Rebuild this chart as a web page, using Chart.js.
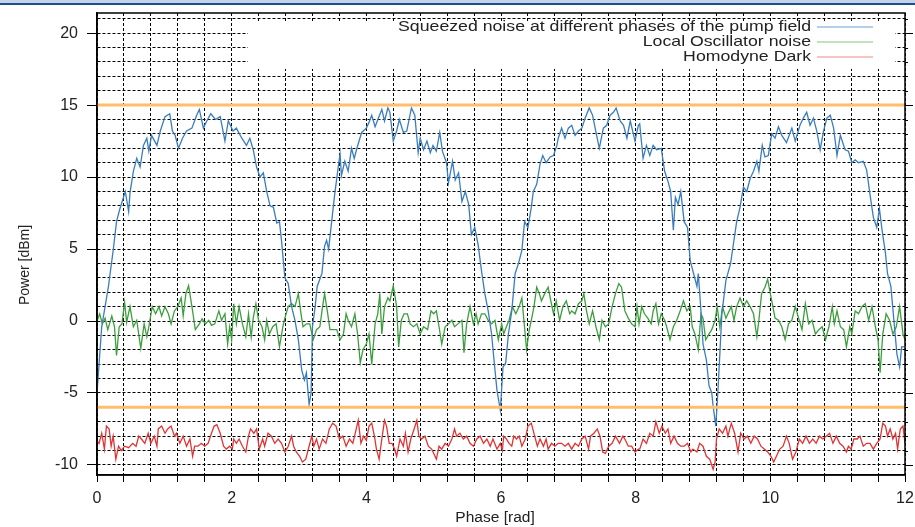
<!DOCTYPE html>
<html>
<head>
<meta charset="utf-8">
<script src="https://cdn.jsdelivr.net/npm/chart.js@4.4.1/dist/chart.umd.min.js"></script>
<style>
    body { margin: 0; background: #fff; }
    #wrap { position: relative; width: 915px; height: 527px; }
    #bar { position: absolute; left: 0; top: 0; width: 915px; height: 3px; background: #c3d4ea; border-bottom: 2px solid #1f4e8c; }
</style>
</head>
<body>
<div id="wrap">
    <canvas id="chart"></canvas>
    <div id="bar"></div>
</div>
<script>
// Series names (legend)
const seriesNames = [
    "Squeezed noise at different phases of the pump field",
    "Local Oscillator noise",
    "Homodyne Dark",
];

// Squeezed noise (blue)
const sqzPhase = [0.00,0.07,0.17,0.24,0.29,0.34,0.42,0.47,0.49,0.54,0.59,0.64,0.69,0.74,0.77,0.81,0.89,0.94,1.01,1.08,1.12,1.16,1.21,1.27,1.33,1.41,1.48,1.52,1.58,1.63,1.69,1.76,1.83,1.90,1.95,2.02,2.07,2.15,2.22,2.27,2.32,2.37,2.42,2.47,2.52,2.57,2.62,2.67,2.71,2.74,2.79,2.84,2.89,2.94,2.99,3.04,3.08,3.11,3.15,3.18,3.20,3.24,3.27,3.34,3.38,3.41,3.44,3.48,3.53,3.58,3.61,3.63,3.68,3.73,3.78,3.82,3.86,3.93,4.00,4.04,4.08,4.13,4.18,4.23,4.27,4.32,4.35,4.40,4.45,4.49,4.55,4.60,4.67,4.72,4.77,4.80,4.85,4.90,4.95,4.99,5.04,5.09,5.13,5.19,5.22,5.28,5.32,5.37,5.42,5.47,5.52,5.56,5.61,5.66,5.71,5.76,5.81,5.86,5.90,5.94,5.99,6.03,6.07,6.11,6.16,6.21,6.26,6.31,6.35,6.40,6.45,6.48,6.53,6.58,6.62,6.67,6.73,6.78,6.83,6.85,6.90,6.95,7.00,7.05,7.10,7.15,7.20,7.25,7.31,7.36,7.42,7.46,7.52,7.57,7.62,7.67,7.71,7.77,7.82,7.87,7.92,7.99,8.04,8.06,8.11,8.16,8.21,8.26,8.31,8.38,8.43,8.48,8.52,8.56,8.59,8.63,8.67,8.72,8.77,8.81,8.86,8.91,8.93,8.97,9.00,9.05,9.09,9.13,9.15,9.19,9.22,9.25,9.28,9.34,9.41,9.45,9.50,9.55,9.60,9.65,9.70,9.75,9.80,9.83,9.88,9.92,9.97,10.02,10.07,10.12,10.17,10.24,10.32,10.37,10.44,10.49,10.54,10.59,10.64,10.69,10.74,10.79,10.84,10.89,10.94,10.99,11.04,11.11,11.16,11.21,11.26,11.31,11.38,11.43,11.48,11.53,11.58,11.62,11.66,11.71,11.74,11.79,11.84,11.88,11.92,11.95,11.99];
const sqzPower = [-5.0,-0.4,2.4,4.9,6.9,7.8,9.0,7.6,8.9,10.4,11.3,10.7,12.2,12.7,11.8,12.9,12.2,13.2,14.2,14.4,13.2,12.9,12.0,12.7,13.2,13.4,14.3,14.7,13.4,13.9,14.4,14.0,14.2,12.5,13.9,13.2,13.4,12.7,12.2,12.7,11.9,10.7,10.0,10.3,9.0,8.0,7.9,6.8,6.9,5.6,3.0,2.6,1.0,0.05,-1.3,-3.4,-4.1,-3.6,-5.8,-5.0,-0.4,1.0,2.4,3.3,5.2,5.6,5.0,6.7,8.8,10.6,11.6,10.1,11.1,10.4,12.0,11.3,12.0,13.1,13.4,13.8,14.3,13.5,14.1,14.7,13.9,14.8,14.5,12.5,13.2,14.0,13.1,13.2,14.8,14.3,11.7,12.7,11.9,12.5,11.7,12.2,11.8,13.1,11.8,11.0,9.6,11.1,9.8,10.3,8.3,9.0,8.1,6.0,6.5,5.3,3.5,1.9,0.7,-0.9,-2.9,-4.8,-6.2,-3.2,-2.9,-0.9,0.7,3.3,4.0,4.9,6.9,6.5,7.9,9.0,9.5,10.9,11.5,11.0,11.4,11.5,12.2,12.7,13.4,12.7,13.4,13.6,12.9,13.2,13.4,14.1,14.8,14.3,12.9,12.0,13.4,13.6,14.3,14.5,14.8,13.9,13.6,12.7,13.9,12.5,13.6,13.7,11.3,12.2,11.5,12.2,11.9,12.0,10.4,9.7,9.0,6.3,8.6,8.1,9.0,6.9,6.5,4.2,3.3,2.4,3.3,0.7,-1.6,-2.7,-4.5,-5.0,-5.9,-7.3,-5.0,-2.3,0.5,2.8,4.0,5.3,6.9,7.9,9.3,9.0,9.9,10.4,11.1,10.4,12.2,11.4,11.5,13.0,12.7,13.5,12.9,12.4,13.4,12.5,13.6,14.1,14.5,13.6,14.1,13.2,11.9,13.2,14.1,14.3,13.4,11.5,12.9,11.9,11.8,11.0,11.2,11.0,11.1,10.5,8.8,7.2,6.5,7.8,6.3,4.7,3.3,2.4,-0.2,-2.3,-3.2,-1.8,-1.8];

// Local oscillator noise (green)
const loPhase = [0.00,0.04,0.08,0.12,0.16,0.22,0.26,0.29,0.33,0.37,0.41,0.44,0.49,0.54,0.59,0.65,0.70,0.74,0.77,0.82,0.87,0.92,0.96,1.01,1.06,1.10,1.15,1.20,1.25,1.28,1.32,1.36,1.41,1.46,1.52,1.56,1.61,1.66,1.70,1.75,1.81,1.85,1.90,1.94,1.97,2.00,2.03,2.07,2.11,2.16,2.21,2.25,2.29,2.32,2.36,2.40,2.45,2.49,2.52,2.56,2.61,2.66,2.71,2.76,2.79,2.84,2.89,2.94,2.99,3.03,3.06,3.11,3.16,3.21,3.26,3.31,3.35,3.38,3.42,3.46,3.51,3.56,3.61,3.66,3.70,3.73,3.78,3.83,3.87,3.91,3.95,4.00,4.04,4.08,4.13,4.17,4.20,4.23,4.27,4.32,4.35,4.40,4.45,4.48,4.52,4.56,4.61,4.65,4.70,4.75,4.80,4.85,4.91,4.96,5.00,5.04,5.08,5.12,5.17,5.22,5.27,5.31,5.36,5.42,5.45,5.49,5.54,5.59,5.63,5.66,5.71,5.76,5.81,5.86,5.91,5.96,6.01,6.04,6.08,6.12,6.17,6.22,6.27,6.31,6.34,6.38,6.42,6.45,6.49,6.53,6.57,6.60,6.65,6.70,6.74,6.78,6.82,6.87,6.92,6.97,7.02,7.05,7.10,7.15,7.20,7.23,7.27,7.31,7.36,7.41,7.46,7.50,7.55,7.60,7.65,7.70,7.75,7.79,7.84,7.89,7.94,7.99,8.02,8.05,8.09,8.13,8.18,8.23,8.26,8.30,8.34,8.38,8.43,8.46,8.51,8.56,8.61,8.66,8.71,8.76,8.81,8.84,8.88,8.93,8.97,9.00,9.04,9.09,9.13,9.18,9.21,9.25,9.29,9.34,9.37,9.42,9.46,9.50,9.55,9.60,9.65,9.70,9.75,9.80,9.83,9.87,9.92,9.96,10.00,10.05,10.07,10.12,10.17,10.22,10.27,10.32,10.37,10.42,10.47,10.52,10.57,10.62,10.67,10.72,10.77,10.82,10.87,10.92,10.95,10.99,11.04,11.09,11.13,11.18,11.21,11.26,11.31,11.36,11.41,11.46,11.51,11.56,11.60,11.63,11.67,11.72,11.77,11.82,11.87,11.92,11.97,12.00];
const loPower = [0.0,0.5,-0.2,0.2,-0.6,0.35,-0.4,-2.4,-0.4,-0.2,1.3,-0.1,1.0,-0.4,0.05,-1.9,-0.2,-1.1,-0.4,1.0,0.5,1.0,0.35,1.0,0.5,-0.2,0.7,1.0,1.6,0.35,1.9,2.45,1.0,-0.6,-0.2,0.15,-0.2,0.05,-0.3,-0.2,0.7,0.05,0.5,-1.6,-0.4,-1.3,1.2,-0.2,1.0,-0.2,-1.1,0.5,-1.1,0.2,1.2,0.05,-0.4,-1.3,0.05,-0.9,-0.4,-0.2,-1.8,-0.4,0.2,1.0,1.2,1.0,1.9,0.5,-0.4,-0.2,-0.2,-1.3,-0.6,-0.4,1.0,1.9,0.7,-0.6,-0.6,-0.6,-1.3,-0.9,0.5,0.05,-0.4,0.5,-0.9,-2.9,-2.0,-1.6,-0.9,-3.0,-0.2,0.5,1.9,-0.9,1.0,1.6,1.4,2.45,1.0,-1.8,0.05,0.5,0.5,-0.2,-0.4,-0.2,-0.9,-0.4,-0.6,0.7,0.5,0.7,-0.4,-1.6,-0.4,-0.2,0.05,-0.4,-0.2,0.05,-2.2,-0.2,1.0,-0.2,0.5,-0.2,0.5,0.5,0.05,-0.2,0.05,-1.3,-0.2,-0.9,-0.4,0.05,1.0,0.5,1.0,1.6,0.05,-2.0,-0.6,0.05,1.0,2.35,1.9,1.4,1.9,2.35,1.4,0.5,1.4,0.05,1.0,1.4,0.5,0.7,0.5,1.2,1.4,1.9,0.7,-0.2,0.7,-0.4,-1.3,0.05,-0.4,-0.2,1.0,1.9,2.6,2.35,0.7,0.2,-0.2,-0.4,1.0,-0.2,1.0,0.5,0.2,-0.2,0.7,1.2,-0.2,0.5,0.05,-0.4,-1.3,-0.4,0.05,0.7,1.4,0.7,1.0,-0.4,-0.9,-2.0,0.5,0.2,-1.3,-0.9,-0.6,0.05,1.0,-0.4,1.0,0.2,0.5,1.0,0.05,1.0,1.6,1.0,1.4,1.0,0.5,-1.1,0.05,1.9,2.35,2.9,1.9,0.7,0.2,0.05,-0.4,-1.3,-0.2,0.05,1.0,0.2,-0.6,1.2,-0.2,0.05,-0.9,-0.6,-0.4,-1.3,-0.4,1.0,-0.2,0.7,-0.4,-0.6,-1.8,-0.4,-0.9,0.7,0.5,1.0,1.2,0.05,1.0,-0.4,-1.3,-3.6,-0.9,0.5,0.05,-0.9,-0.4,1.0,-0.9,-1.3];

// Homodyne dark noise (red)
const darkPhase = [0.00,0.03,0.07,0.11,0.14,0.18,0.21,0.24,0.28,0.32,0.36,0.41,0.47,0.53,0.58,0.62,0.66,0.71,0.76,0.80,0.85,0.89,0.91,0.96,1.01,1.05,1.10,1.15,1.18,1.23,1.28,1.33,1.38,1.42,1.45,1.50,1.55,1.60,1.65,1.70,1.74,1.78,1.83,1.88,1.92,1.97,2.01,2.03,2.07,2.11,2.16,2.21,2.25,2.28,2.33,2.37,2.41,2.46,2.49,2.54,2.59,2.64,2.69,2.74,2.79,2.84,2.89,2.92,2.96,3.01,3.05,3.10,3.15,3.19,3.22,3.26,3.30,3.35,3.40,3.45,3.50,3.55,3.60,3.65,3.70,3.75,3.80,3.85,3.88,3.92,3.96,4.00,4.04,4.08,4.12,4.15,4.19,4.23,4.27,4.30,4.34,4.38,4.42,4.45,4.50,4.55,4.58,4.62,4.66,4.71,4.75,4.78,4.82,4.87,4.92,4.97,5.02,5.04,5.08,5.12,5.17,5.22,5.27,5.31,5.34,5.39,5.44,5.49,5.54,5.59,5.64,5.69,5.74,5.79,5.84,5.88,5.94,5.99,6.02,6.04,6.08,6.12,6.16,6.19,6.23,6.27,6.31,6.36,6.40,6.45,6.50,6.54,6.58,6.63,6.67,6.70,6.75,6.80,6.85,6.90,6.95,7.00,7.05,7.10,7.15,7.20,7.25,7.30,7.33,7.38,7.43,7.47,7.51,7.55,7.60,7.65,7.70,7.76,7.81,7.84,7.89,7.94,7.99,8.04,8.06,8.11,8.16,8.21,8.26,8.30,8.35,8.39,8.44,8.48,8.52,8.57,8.62,8.67,8.72,8.77,8.82,8.85,8.91,8.95,9.00,9.05,9.10,9.15,9.18,9.20,9.24,9.29,9.34,9.37,9.42,9.47,9.52,9.56,9.61,9.66,9.71,9.76,9.81,9.86,9.91,9.96,10.01,10.05,10.09,10.14,10.19,10.24,10.28,10.33,10.38,10.43,10.48,10.53,10.58,10.63,10.68,10.73,10.78,10.83,10.88,10.93,10.98,11.03,11.08,11.13,11.16,11.20,11.24,11.29,11.33,11.38,11.43,11.48,11.53,11.58,11.63,11.67,11.71,11.74,11.78,11.82,11.86,11.89,11.93,11.97,12.00];
const darkPower = [-8.35,-8.5,-7.8,-8.9,-7.3,-7.5,-8.7,-8.0,-9.6,-8.7,-9.0,-8.7,-8.8,-8.5,-8.7,-8.0,-8.2,-8.5,-7.8,-8.5,-8.0,-8.7,-7.5,-7.3,-7.8,-7.5,-7.3,-8.0,-7.8,-8.5,-8.0,-8.7,-8.2,-9.4,-8.7,-8.7,-8.5,-8.7,-8.5,-7.8,-7.3,-7.2,-7.8,-8.7,-8.9,-8.7,-8.9,-8.2,-8.5,-8.2,-8.7,-9.1,-8.0,-7.5,-7.8,-7.5,-8.9,-8.2,-8.7,-7.8,-8.0,-8.5,-8.2,-8.5,-9.1,-8.7,-8.0,-8.7,-9.1,-9.4,-9.8,-9.6,-8.7,-8.0,-8.7,-8.2,-8.9,-8.2,-8.5,-7.5,-7.1,-7.3,-8.2,-8.0,-8.7,-8.2,-8.5,-7.5,-6.9,-8.5,-8.0,-8.3,-7.3,-7.1,-8.0,-8.9,-9.6,-8.2,-6.9,-7.3,-8.5,-8.5,-8.9,-9.4,-8.2,-8.7,-7.8,-9.1,-8.2,-7.5,-6.9,-8.0,-8.2,-8.0,-8.7,-8.9,-9.4,-9.6,-8.7,-8.9,-8.5,-8.7,-8.2,-7.5,-8.0,-7.8,-8.2,-8.0,-8.5,-8.7,-8.2,-8.0,-8.5,-8.2,-8.7,-8.2,-8.9,-8.5,-9.0,-8.0,-8.2,-8.5,-8.7,-8.0,-8.2,-8.0,-8.7,-8.2,-7.3,-7.1,-8.0,-8.7,-8.2,-8.7,-8.2,-8.9,-8.5,-8.7,-8.5,-8.5,-8.7,-8.5,-8.9,-8.5,-8.7,-8.2,-8.0,-8.9,-8.0,-7.8,-7.5,-8.0,-9.1,-9.2,-8.7,-8.5,-8.0,-8.5,-8.0,-8.2,-8.7,-8.7,-9.1,-8.9,-8.9,-8.2,-8.5,-7.8,-8.0,-7.0,-7.8,-7.3,-7.8,-7.5,-8.5,-8.0,-8.5,-8.7,-8.7,-8.5,-9.1,-8.9,-9.1,-8.5,-8.7,-9.4,-9.6,-10.3,-9.8,-8.2,-7.5,-7.8,-7.3,-8.0,-7.1,-7.8,-9.1,-7.8,-8.2,-8.0,-8.5,-8.0,-8.2,-8.7,-8.9,-9.1,-9.4,-9.8,-9.4,-8.9,-8.7,-8.0,-8.5,-9.6,-9.1,-8.2,-8.5,-8.0,-8.5,-8.2,-8.5,-8.0,-8.2,-8.0,-7.8,-8.5,-8.0,-8.5,-8.7,-9.1,-8.7,-8.9,-8.2,-8.2,-8.0,-8.7,-8.5,-8.5,-8.9,-8.5,-8.2,-7.1,-7.3,-8.0,-7.5,-8.2,-7.8,-8.9,-7.5,-7.3,-8.5];

// Orange reference levels [dBm]
const refLevels = [15, -6];
const phaseRange = [0, 12];
const powerRange = [-10.7, 21.4];

const FONT = "'Liberation Sans', Arial, sans-serif";
const colors = ["#3a7dbf", "#3c9e3c", "#e03434"];
const sampleColors = ["#6d9fd3", "#83c483", "#ef8a8a"];

const toPoints = (xs, ys) => xs.map((x, i) => ({ x: x, y: ys[i] }));

const datasets = [
    { data: toPoints(sqzPhase, sqzPower), borderColor: colors[0] },
    { data: toPoints(loPhase, loPower), borderColor: colors[1] },
    { data: toPoints(darkPhase, darkPower), borderColor: colors[2] },
].map((d) => Object.assign(d, { borderWidth: 1.3, pointRadius: 0, tension: 0 }));

refLevels.forEach((lvl) => {
    datasets.unshift({
        data: phaseRange.map((x) => ({ x: x, y: lvl })),
        borderColor: "#ffbe6c",
        borderWidth: 3,
        pointRadius: 0,
    });
});

// text drawn a little wider than the font, like the source image
function wideText(ctx, text, x, y, align, sx) {
    ctx.save();
    ctx.translate(x, y);
    ctx.scale(sx, 1);
    ctx.textAlign = align;
    ctx.fillText(text, 0, 0);
    ctx.restore();
}

// frame, right ticks, legend and axis titles
const decorations = {
    id: "decorations",
    afterDatasetsDraw(chart) {
        const { ctx } = chart;
        ctx.save();
        // legend box
        ctx.fillStyle = "#fff";
        ctx.fillRect(248, 22, 647, 47);
        ctx.font = "15px " + FONT;
        ctx.textBaseline = "middle";
        seriesNames.forEach((name, i) => {
            const y = 27 + i * 15;
            ctx.fillStyle = "#222";
            wideText(ctx, name, 811, y, "right", 1.18);
            ctx.strokeStyle = sampleColors[i];
            ctx.lineWidth = 1.2;
            ctx.beginPath();
            ctx.moveTo(817, y);
            ctx.lineTo(873, y);
            ctx.stroke();
        });
        ctx.restore();
    },
    afterDraw(chart) {
        const { ctx, chartArea: a, scales } = chart;
        ctx.save();
        ctx.strokeStyle = "#000";
        ctx.lineWidth = 1.5;
        ctx.strokeRect(a.left, a.top, a.right - a.left, a.bottom - a.top);
        // right side ticks
        ctx.lineWidth = 1;
        scales.y.ticks.forEach((t) => {
            const py = Math.round(scales.y.getPixelForValue(t.value)) + 0.5;
            const len = t.value % 5 === 0 ? 8 : 3;
            ctx.beginPath();
            ctx.moveTo(a.right, py);
            ctx.lineTo(a.right + len, py);
            ctx.stroke();
        });
        // axis titles
        ctx.fillStyle = "#222";
        ctx.font = "14px " + FONT;
        ctx.textBaseline = "middle";
        wideText(ctx, "Phase [rad]", 495, 518, "center", 1.11);
        ctx.translate(25, 265);
        ctx.rotate(-Math.PI / 2);
        ctx.textAlign = "center";
        ctx.fillText("Power [dBm]", 0, 0);
        ctx.restore();
    },
};

new Chart(document.getElementById("chart"), {
    type: "line",
    data: { datasets: datasets },
    options: {
        responsive: true,
        maintainAspectRatio: false,
        animation: false,
        layout: { padding: { top: 13, right: 10, left: 0, bottom: 0 } },
        plugins: { legend: { display: false }, tooltip: { enabled: false } },
        scales: {
            x: {
                type: "linear",
                min: phaseRange[0],
                max: phaseRange[1],
                afterFit: (s) => {
                    s.height = 52;
                    s.paddingLeft = 0;
                    s.paddingRight = 0;
                },
                ticks: {
                    stepSize: 0.4,
                    autoSkip: false,
                    maxRotation: 0,
                    padding: 7,
                    color: "#222",
                    font: { family: FONT, size: 16 },
                    callback: (v) => (Math.abs(v / 2 - Math.round(v / 2)) < 1e-6 ? String(Math.round(v)) : ""),
                },
                grid: { color: "#000", lineWidth: 1, tickLength: 7, tickColor: "#000" },
                border: { dash: [3, 2], color: "#000", width: 1.5 },
            },
            y: {
                min: powerRange[0],
                max: powerRange[1],
                afterFit: (s) => {
                    s.width = 97;
                    s.paddingTop = 0;
                    s.paddingBottom = 0;
                },
                afterBuildTicks: (s) => {
                    const t = [];
                    for (let v = Math.ceil(s.min); v <= Math.floor(s.max); v++) t.push({ value: v });
                    s.ticks = t;
                },
                ticks: {
                    autoSkip: false,
                    padding: 9,
                    color: "#222",
                    font: { family: FONT, size: 16 },
                    callback: (v) => (v % 5 === 0 ? String(v) : ""),
                },
                grid: {
                    color: "#000",
                    lineWidth: 1,
                    tickLength: 10,
                    tickColor: (c) => (c.tick && c.tick.value % 5 === 0 ? "#000" : "rgba(0,0,0,0)"),
                },
                border: { dash: [3, 2], color: "#000", width: 1.5 },
            },
        },
    },
    plugins: [decorations],
});
</script>
</body>
</html>
